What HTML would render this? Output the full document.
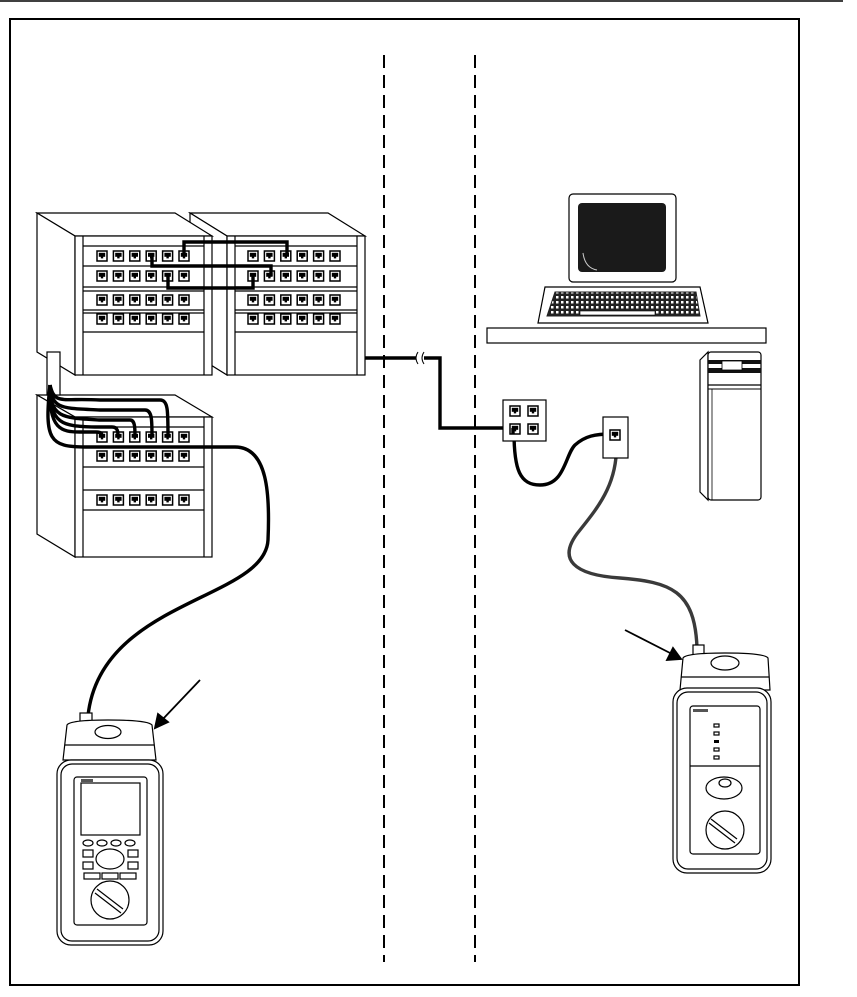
<!DOCTYPE html>
<html><head><meta charset="utf-8"><style>html,body{margin:0;padding:0;background:#fff}svg{display:block}</style></head>
<body>
<svg width="857" height="997" viewBox="0 0 857 997" xmlns="http://www.w3.org/2000/svg" font-family="Liberation Sans, sans-serif">
<defs>
<g id="jack"><rect x="-5" y="-5" width="10" height="10" fill="#fff" stroke="#000" stroke-width="1.5"/><rect x="-3.2" y="-3.2" width="6.4" height="4" fill="#000"/><rect x="-1.2" y="0" width="2.4" height="2.4" fill="#000"/></g>
<g id="row6"><use href="#jack" x="0"/><use href="#jack" x="16.4"/><use href="#jack" x="32.8"/><use href="#jack" x="49.2"/><use href="#jack" x="65.6"/><use href="#jack" x="82"/></g>
<pattern id="keys" width="5" height="5" patternUnits="userSpaceOnUse"><rect width="5" height="5" fill="#222"/><rect x="1" y="1" width="2.5" height="2.5" fill="#fff"/></pattern>
</defs>
<line x1="0" y1="1" x2="843" y2="1" stroke="#000" stroke-width="1.5"/>
<rect x="10" y="19" width="789" height="966" fill="none" stroke="#000" stroke-width="2"/>
<line x1="384" y1="55" x2="384" y2="962" stroke="#000" stroke-width="2" stroke-dasharray="13,7"/>
<line x1="475" y1="55" x2="475" y2="962" stroke="#000" stroke-width="2" stroke-dasharray="13,7"/>

<g fill="#fff" stroke="#000" stroke-width="1.2">
<polygon points="190,213 328,213 365,236 227,236"/>
<polygon points="190,213 227,236 227,375 190,352"/>
<rect x="227" y="236" width="138" height="139"/>
<line x1="235" y1="236" x2="235" y2="375"/><line x1="357" y1="236" x2="357" y2="375"/>
<line x1="235" y1="246" x2="357" y2="246"/><line x1="235" y1="266" x2="357" y2="266"/><line x1="235" y1="287" x2="357" y2="287"/><line x1="235" y1="291" x2="357" y2="291"/><line x1="235" y1="310" x2="357" y2="310"/><line x1="235" y1="313" x2="357" y2="313"/><line x1="235" y1="332" x2="357" y2="332"/>
<polygon points="37,213 175,213 212,236 75,236"/>
<polygon points="37,213 75,236 75,375 37,352"/>
<rect x="75" y="236" width="137" height="139"/>
<line x1="83" y1="236" x2="83" y2="375"/><line x1="204" y1="236" x2="204" y2="375"/>
<line x1="83" y1="246" x2="204" y2="246"/><line x1="83" y1="266" x2="204" y2="266"/><line x1="83" y1="287" x2="204" y2="287"/><line x1="83" y1="291" x2="204" y2="291"/><line x1="83" y1="310" x2="204" y2="310"/><line x1="83" y1="313" x2="204" y2="313"/><line x1="83" y1="332" x2="204" y2="332"/>
<polygon points="37,395 175,395 212,417 75,417"/>
<polygon points="37,395 75,417 75,557 37,534"/>
<rect x="75" y="417" width="137" height="140"/>
<line x1="83" y1="417" x2="83" y2="557"/><line x1="204" y1="417" x2="204" y2="557"/>
<line x1="83" y1="427" x2="204" y2="427"/><line x1="83" y1="447" x2="204" y2="447"/><line x1="83" y1="467" x2="204" y2="467"/><line x1="83" y1="490" x2="204" y2="490"/><line x1="83" y1="510" x2="204" y2="510"/>
<rect x="47" y="352" width="13" height="43"/>
</g>
<use href="#row6" x="102" y="256"/><use href="#row6" x="102" y="276"/><use href="#row6" x="102" y="300"/><use href="#row6" x="102" y="319"/>
<use href="#row6" x="253" y="256"/><use href="#row6" x="253" y="276"/><use href="#row6" x="253" y="300"/><use href="#row6" x="253" y="319"/>
<use href="#row6" x="102" y="437"/><use href="#row6" x="102" y="456"/><use href="#row6" x="102" y="500"/>

<g fill="none" stroke="#000" stroke-width="3.4">
<path d="M184,256 V242 H287 V256"/>
<path d="M152,256 V266 H271 V276"/>
<path d="M168,276 V288 H253 V276"/>
<path d="M50,385 C55,405 60,398 100,400 L160,400 C168,400 168,410 168,437"/>
<path d="M50,385 C52,410 62,408 100,410 L145,410 C152,410 152,420 152,437"/>
<path d="M50,385 C50,418 62,418 100,420 L130,420 C135,420 135,428 135,437"/>
<path d="M50,385 C50,425 62,426 95,427 L112,427 C118,427 118,432 118,437"/>
<path d="M50,385 C48,430 62,432 80,432 L96,432 C102,432 102,434 102,437"/>
<path d="M50,385 C44,440 50,447 85,447 L235,447 C268,447 270,495 268,540 C265,600 100,600 88,716"/>
<path d="M365,358 H416 M424,358 H440 V428 H513 V432"/>
<path d="M514,432 C514,470 520,485 540,485 C565,485 565,455 575,445 C585,436 595,434 612,434"/>
</g>
<g stroke="#000" stroke-width="1" fill="none"><path d="M418,352 Q414,358 418,364"/><path d="M424,352 Q420,358 424,364"/></g>
<path d="M616,436 C620,480 600,505 580,530 C555,560 575,575 620,578 C670,582 695,590 697,648" fill="none" stroke="#3a3a3a" stroke-width="3.4"/>

<rect x="503" y="400" width="43" height="41" fill="#fff" stroke="#000" stroke-width="1.2"/>
<use href="#jack" x="515" y="411"/><use href="#jack" x="533" y="411"/><use href="#jack" x="515" y="429"/><use href="#jack" x="533" y="429"/>
<path d="M513,428 V434" stroke="#000" stroke-width="3.4"/>
<rect x="603" y="417" width="25" height="41" fill="#fff" stroke="#000" stroke-width="1.2"/>
<use href="#jack" x="615" y="435"/>

<rect x="569" y="194" width="107" height="88" rx="4" fill="#fff" stroke="#000" stroke-width="1.2"/>
<rect x="578" y="203" width="88" height="69" rx="4" fill="#1a1a1a"/>
<path d="M583,253 Q585,268 597,270" stroke="#ccc" stroke-width="1" fill="none"/>
<polygon points="545,287 700,287 708,323 538,323" fill="#fff" stroke="#000" stroke-width="1.2"/>
<polygon points="555,292 696,292 700,316 547,316" fill="url(#keys)" stroke="#222" stroke-width="1"/>
<rect x="580" y="311" width="75" height="4" fill="#fff" stroke="#000" stroke-width="0.6"/>
<rect x="487" y="328" width="279" height="15" fill="#fff" stroke="#000" stroke-width="1.2"/>
<g fill="#fff" stroke="#000" stroke-width="1.2">
<polygon points="700,360 708,352 708,500 700,492"/>
<rect x="708" y="352" width="53" height="148" rx="3"/>
</g>
<rect x="708" y="360" width="53" height="4" fill="#111"/>
<rect x="708" y="368" width="53" height="5" fill="#111"/>
<rect x="722" y="361" width="20" height="9" fill="#fff" stroke="#000" stroke-width="0.8"/>
<line x1="708" y1="385" x2="761" y2="385" stroke="#000" stroke-width="1.2"/>
<line x1="708" y1="389" x2="761" y2="389" stroke="#000" stroke-width="1"/>
<line x1="712" y1="389" x2="712" y2="500" stroke="#000" stroke-width="0.8"/>

<g stroke="#000" stroke-width="1.8" fill="#000">
<line x1="200" y1="680" x2="162" y2="720"/><polygon points="155,728 158,714 168,722"/>
<line x1="625" y1="630" x2="672" y2="654"/><polygon points="681,659 667,660 673,648"/>
</g>

<g fill="#fff" stroke="#000" stroke-width="1.2">
<rect x="80" y="713" width="12" height="10"/>
<path d="M67,725 Q70,720 108,720 Q148,720 152,725 L156,760 L63,760 Z"/>
<line x1="65" y1="745" x2="154" y2="745"/>
<ellipse cx="108" cy="732" rx="13" ry="6.5"/>
<rect x="57" y="760" width="106" height="185" rx="14"/>
<rect x="61" y="764" width="98" height="177" rx="11"/>
<rect x="74" y="777" width="73" height="148" rx="3"/>
<rect x="81" y="783" width="59" height="52"/>
<ellipse cx="88" cy="843" rx="5" ry="3"/><ellipse cx="102" cy="843" rx="5" ry="3"/><ellipse cx="116" cy="843" rx="5" ry="3"/><ellipse cx="130" cy="843" rx="5" ry="3"/>
<rect x="83" y="850" width="10" height="7"/><rect x="128" y="850" width="10" height="7"/>
<rect x="83" y="862" width="10" height="7"/><rect x="128" y="862" width="10" height="7"/>
<ellipse cx="110" cy="859" rx="14" ry="10"/>
<rect x="84" y="873" width="16" height="6"/><rect x="102" y="873" width="16" height="6"/><rect x="120" y="873" width="16" height="6"/>
<circle cx="110" cy="900" r="19"/>
</g>
<rect x="81" y="779" width="12" height="3" fill="#555"/>
<g stroke="#000" stroke-width="1.2"><line x1="97" y1="889" x2="123" y2="909"/><line x1="95" y1="893" x2="121" y2="913"/></g>

<g fill="#fff" stroke="#000" stroke-width="1.2">
<rect x="693" y="645" width="11" height="10"/>
<path d="M683,658 Q686,653 725,653 Q764,653 768,658 L770,690 L680,690 Z"/>
<line x1="681" y1="677" x2="769" y2="677"/>
<ellipse cx="725" cy="663" rx="14" ry="7"/>
<rect x="673" y="688" width="98" height="185" rx="14"/>
<rect x="677" y="692" width="90" height="177" rx="11"/>
<rect x="690" y="706" width="70" height="148" rx="3"/>
<line x1="690" y1="766" x2="760" y2="766"/>
<ellipse cx="724" cy="788" rx="18" ry="11"/><ellipse cx="725" cy="783" rx="6" ry="4"/>
<circle cx="725" cy="830" r="19"/>
<rect x="714" y="724" width="5" height="3"/><rect x="714" y="732" width="5" height="3"/><rect x="714" y="748" width="5" height="3"/><rect x="714" y="756" width="5" height="3"/>
</g>
<rect x="714" y="740" width="5" height="3" fill="#000"/>
<rect x="693" y="709" width="15" height="3" fill="#555"/>
<g stroke="#000" stroke-width="1.2"><line x1="711" y1="819" x2="737" y2="839"/><line x1="709" y1="823" x2="735" y2="843"/></g>
</svg>
</body></html>
